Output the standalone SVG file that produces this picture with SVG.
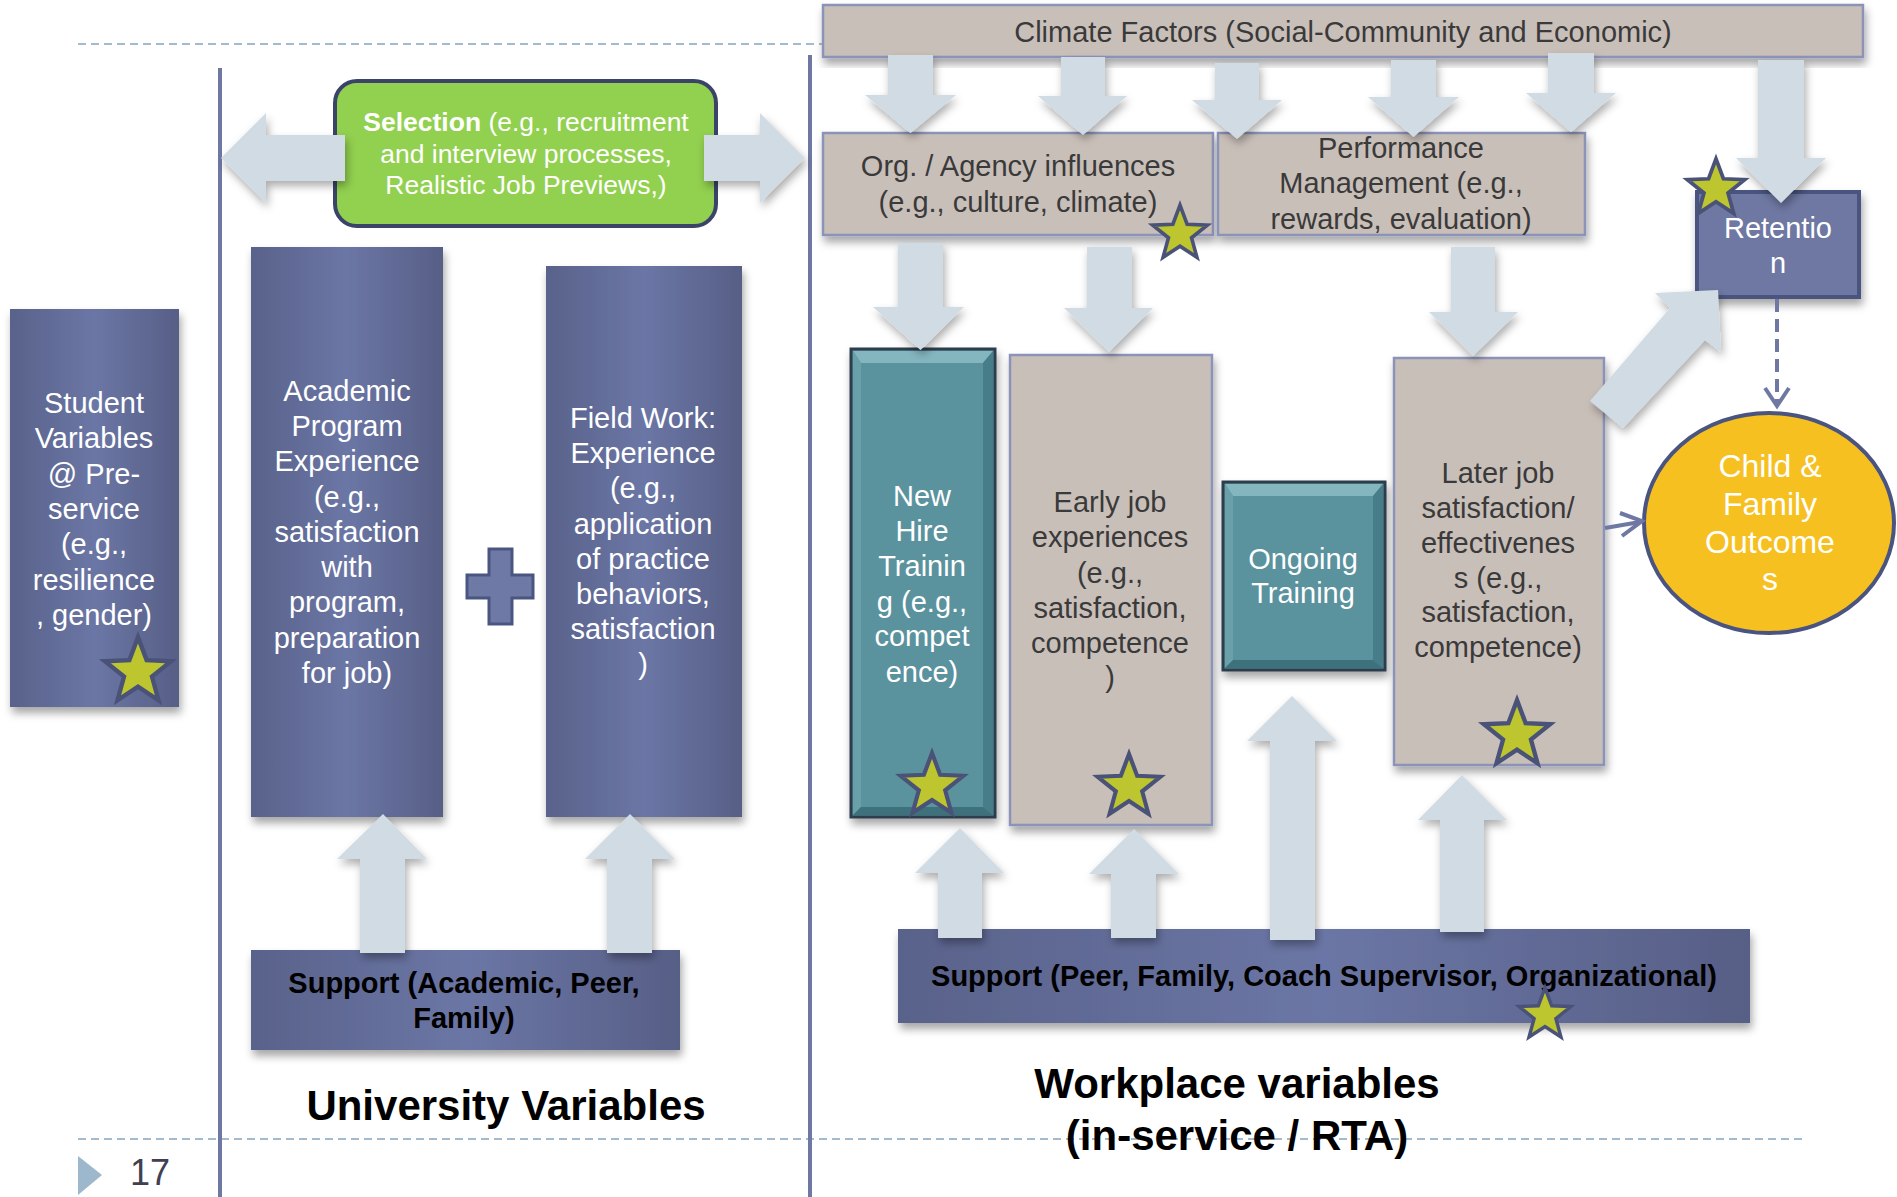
<svg xmlns="http://www.w3.org/2000/svg" xmlns:xlink="http://www.w3.org/1999/xlink" width="1897" height="1197" viewBox="0 0 1897 1197">
<defs>
<style>
.t{font-family:"Liberation Sans",Arial,sans-serif;font-size:29px;text-anchor:middle}
.w{fill:#ffffff}
.d{fill:#3a3a3a}
.b{font-weight:bold;fill:#000000}
.big{font-size:42px}
.arr{fill:#d1dbe4;filter:url(#ash)}
.slate{fill:url(#gs);filter:url(#sh)}
.taupe{fill:#c9bfb9;stroke:#8b93b8;stroke-width:2.5;filter:url(#sh)}
.teal{fill:#5a929e;stroke:#2e3d4d;stroke-width:3}
.star{fill:#bdc62f;stroke:#4a5278;stroke-width:4}
.vline{stroke:#6e78a2;stroke-width:4}
.dash{stroke:#a3bbcf;stroke-width:2;stroke-dasharray:8 5}
.link{stroke:#6e78a2;stroke-width:4;fill:none}
</style>
<linearGradient id="gs" x1="0" y1="0" x2="1" y2="0">
<stop offset="0" stop-color="#59628a"/>
<stop offset="0.5" stop-color="#6b76a5"/>
<stop offset="1" stop-color="#575f86"/>
</linearGradient>
<filter id="sh" x="-10%" y="-10%" width="125%" height="130%">
<feDropShadow dx="2" dy="6" stdDeviation="4" flood-color="#000000" flood-opacity="0.35"/>
</filter>
<filter id="ash" x="-20%" y="-20%" width="150%" height="150%">
<feDropShadow dx="2" dy="5" stdDeviation="4" flood-color="#000000" flood-opacity="0.32"/>
</filter>
<path id="star" d="M0,-32 L7.9,-10.9 L30.43,-9.89 L12.8,4.2 L18.81,25.89 L0,13.5 L-18.81,25.89 L-12.8,4.2 L-30.43,-9.89 L-7.9,-10.9 Z"/>
</defs>
<rect width="1897" height="1197" fill="#ffffff"/>

<g id="frame">
<line class="dash" x1="78" y1="44" x2="823" y2="44"/>
<line class="dash" x1="78" y1="1139" x2="1803" y2="1139"/>
<line class="vline" x1="220" y1="68" x2="220" y2="1197"/>
<line class="vline" x1="810" y1="55" x2="810" y2="1197"/>
<polygon points="78,1156 102,1175 78,1195" fill="#9db7cc"/>
<text x="130" y="1185" font-family="Liberation Sans, Arial, sans-serif" font-size="36" fill="#404050">17</text>
</g>

<g id="student">
<rect class="slate" x="10" y="309" width="169" height="398"/>
<text class="t w"><tspan x="94" y="413">Student</tspan><tspan x="94" y="448">Variables</tspan><tspan x="94" y="484">@ Pre-</tspan><tspan x="94" y="519">service</tspan><tspan x="94" y="554">(e.g.,</tspan><tspan x="94" y="590">resilience</tspan><tspan x="94" y="625">, gender)</tspan></text>
</g>

<g id="selection">
<rect x="335" y="81" width="381" height="145" rx="22" fill="#92d050" stroke="#3b4468" stroke-width="4"/>
<text class="t w" style="font-size:26.5px"><tspan x="526" y="131"><tspan font-weight="bold">Selection</tspan> (e.g., recruitment</tspan><tspan x="526" y="163">and interview processes,</tspan><tspan x="526" y="194">Realistic Job Previews,)</tspan></text>
</g>

<g id="academic">
<rect class="slate" x="251" y="247" width="192" height="570"/>
<text class="t w"><tspan x="347" y="401">Academic</tspan><tspan x="347" y="436">Program</tspan><tspan x="347" y="471">Experience</tspan><tspan x="347" y="507">(e.g.,</tspan><tspan x="347" y="542">satisfaction</tspan><tspan x="347" y="577">with</tspan><tspan x="347" y="612">program,</tspan><tspan x="347" y="648">preparation</tspan><tspan x="347" y="683">for job)</tspan></text>
</g>

<g id="plus">
<polygon points="489,549 512,549 512,575 533,575 533,598 512,598 512,624 489,624 489,598 467,598 467,575 489,575" fill="#6e7aa5" stroke="#4a5680" stroke-width="3"/>
</g>

<g id="fieldwork">
<rect class="slate" x="546" y="266" width="196" height="551"/>
<text class="t w"><tspan x="643" y="428">Field Work:</tspan><tspan x="643" y="463">Experience</tspan><tspan x="643" y="498">(e.g.,</tspan><tspan x="643" y="534">application</tspan><tspan x="643" y="569">of practice</tspan><tspan x="643" y="604">behaviors,</tspan><tspan x="643" y="639">satisfaction</tspan><tspan x="643" y="674">)</tspan></text>
</g>

<g id="support-university">
<rect class="slate" x="251" y="950" width="429" height="100"/>
<text class="t b"><tspan x="464" y="993">Support (Academic, Peer,</tspan><tspan x="464" y="1028">Family)</tspan></text>
</g>

<g id="label-university">
<text class="t b big" x="506" y="1120">University Variables</text>
</g>

<g id="climate">
<rect class="taupe" x="823" y="5" width="1040" height="52"/>
<text class="t d" x="1343" y="42">Climate Factors (Social-Community and Economic)</text>
</g>

<g id="org">
<rect class="taupe" x="823" y="133" width="390" height="102"/>
<text class="t d"><tspan x="1018" y="176">Org. / Agency influences</tspan><tspan x="1018" y="212">(e.g., culture, climate)</tspan></text>
</g>

<g id="performance">
<rect class="taupe" x="1218" y="133" width="367" height="102"/>
<text class="t d"><tspan x="1401" y="158">Performance</tspan><tspan x="1401" y="193">Management (e.g.,</tspan><tspan x="1401" y="229">rewards, evaluation)</tspan></text>
</g>

<g id="retention">
<rect x="1697" y="192" width="162" height="105" fill="#6e78a2" stroke="#4a5480" stroke-width="4" filter="url(#sh)"/>
<text class="t w"><tspan x="1778" y="238">Retentio</tspan><tspan x="1778" y="273">n</tspan></text>
</g>

<g id="newhire">
<rect class="teal" x="851" y="349" width="144" height="468" filter="url(#sh)"/>
<polygon points="853,351 993,351 983,363 861,363" fill="#84b6bf"/>
<polygon points="853,351 861,363 861,807 853,815" fill="#6aa0aa"/>
<polygon points="993,351 983,363 983,807 993,815" fill="#467d88"/>
<polygon points="853,815 993,815 983,807 861,807" fill="#3d717c"/>
<text class="t w"><tspan x="922" y="506">New</tspan><tspan x="922" y="541">Hire</tspan><tspan x="922" y="576">Trainin</tspan><tspan x="922" y="612">g (e.g.,</tspan><tspan x="922" y="646">compet</tspan><tspan x="922" y="682">ence)</tspan></text>
</g>

<g id="earlyjob">
<rect class="taupe" x="1010" y="355" width="202" height="470"/>
<text class="t d"><tspan x="1110" y="512">Early job</tspan><tspan x="1110" y="547">experiences</tspan><tspan x="1110" y="583">(e.g.,</tspan><tspan x="1110" y="618">satisfaction,</tspan><tspan x="1110" y="653">competence</tspan><tspan x="1110" y="687">)</tspan></text>
</g>

<g id="ongoing">
<rect class="teal" x="1223" y="482" width="162" height="188" filter="url(#sh)"/>
<polygon points="1225,484 1383,484 1373,496 1233,496" fill="#84b6bf"/>
<polygon points="1225,484 1233,496 1233,660 1225,668" fill="#6aa0aa"/>
<polygon points="1383,484 1373,496 1373,660 1383,668" fill="#467d88"/>
<polygon points="1225,668 1383,668 1373,660 1233,660" fill="#3d717c"/>
<text class="t w"><tspan x="1303" y="569">Ongoing</tspan><tspan x="1303" y="603">Training</tspan></text>
</g>

<g id="laterjob">
<rect class="taupe" x="1394" y="358" width="210" height="407"/>
<text class="t d"><tspan x="1498" y="483">Later job</tspan><tspan x="1498" y="518">satisfaction/</tspan><tspan x="1498" y="553">effectivenes</tspan><tspan x="1498" y="588">s (e.g.,</tspan><tspan x="1498" y="622">satisfaction,</tspan><tspan x="1498" y="657">competence)</tspan></text>
</g>

<g id="outcomes">
<ellipse cx="1769" cy="523" rx="125" ry="110" fill="#f6c021" stroke="#4a5480" stroke-width="4"/>
<text class="t w" style="font-size:32px"><tspan x="1770" y="477">Child &amp;</tspan><tspan x="1770" y="515">Family</tspan><tspan x="1770" y="553">Outcome</tspan><tspan x="1770" y="590">s</tspan></text>
</g>

<g id="support-workplace">
<rect class="slate" x="898" y="929" width="852" height="94"/>
<text class="t b" x="1324" y="986">Support (Peer, Family, Coach Supervisor, Organizational)</text>
</g>

<g id="label-workplace">
<text class="t b big"><tspan x="1237" y="1098">Workplace variables</tspan><tspan x="1237" y="1150">(in-service / RTA)</tspan></text>
</g>

<g id="connectors">
<polygon class="arr" points="221,158 266,113 266,135 345,135 345,181 266,181 266,203"/>
<polygon class="arr" points="704,135 760,135 760,113 805,158 760,203 760,181 704,181"/>
<polygon class="arr" points="888,55 933,55 933,95 956,95 910.5,133 865,95 888,95"/>
<polygon class="arr" points="1061,57 1105,57 1105,96 1127,96 1083,135 1038,96 1061,96"/>
<polygon class="arr" points="1215,63 1259,63 1259,100 1282,100 1237,139 1192,100 1215,100"/>
<polygon class="arr" points="1391,60 1436,60 1436,97 1459,97 1413.5,137 1368,97 1391,97"/>
<polygon class="arr" points="1548,53 1594,53 1594,93 1616,93 1571,132 1526,93 1548,93"/>
<polygon class="arr" points="1758,60 1804,60 1804,158 1826,158 1781,203 1736,158 1758,158"/>
<polygon class="arr" points="898,243 943,243 943,307 964,307 920.5,350 873,307 898,307"/>
<polygon class="arr" points="1087,247 1132,247 1132,308 1153,308 1109,352 1064,308 1087,308"/>
<polygon class="arr" points="1451,247 1495,247 1495,312 1518,312 1473,356 1429,312 1451,312"/>
<polygon class="arr" points="383,814 427,859 405,859 405,953 360,953 360,859 337,859"/>
<polygon class="arr" points="630,814 675,859 652,859 652,953 607,953 607,859 585,859"/>
<polygon class="arr" points="960,828 1004,873 982,873 982,938 938,938 938,873 915,873"/>
<polygon class="arr" points="1134,829 1179,874 1156,874 1156,938 1111,938 1111,874 1089,874"/>
<polygon class="arr" points="1292,696 1337,741 1315,741 1315,940 1270,940 1270,741 1247,741"/>
<polygon class="arr" points="1462,775 1507,820 1484,820 1484,932 1440,932 1440,820 1418,820"/>
<polygon class="arr" points="1590,401 1670,308 1655,293 1718,290 1721,352 1705,340 1623,428"/>
<line class="link" x1="1777" y1="299" x2="1777" y2="404" stroke-dasharray="13 7"/>
<polyline class="link" points="1765,388 1777,406 1789,388" stroke-width="5"/>
<line class="link" x1="1605" y1="528" x2="1640" y2="522"/>
<polyline class="link" points="1620,513 1642,521 1622,536" stroke-width="5"/>
</g>

<g id="stars">
<use xlink:href="#star" class="star" transform="translate(138,672) scale(1.09)"/>
<use xlink:href="#star" class="star" transform="translate(1180,234) scale(0.9)"/>
<use xlink:href="#star" class="star" transform="translate(1716,189) scale(0.94)"/>
<use xlink:href="#star" class="star" transform="translate(932,786) scale(1.03)"/>
<use xlink:href="#star" class="star" transform="translate(1129,787) scale(1.03)"/>
<use xlink:href="#star" class="star" transform="translate(1517,735) scale(1.09)"/>
<use xlink:href="#star" class="star" transform="translate(1545,1015) scale(0.85)"/>
</g>
</svg>
